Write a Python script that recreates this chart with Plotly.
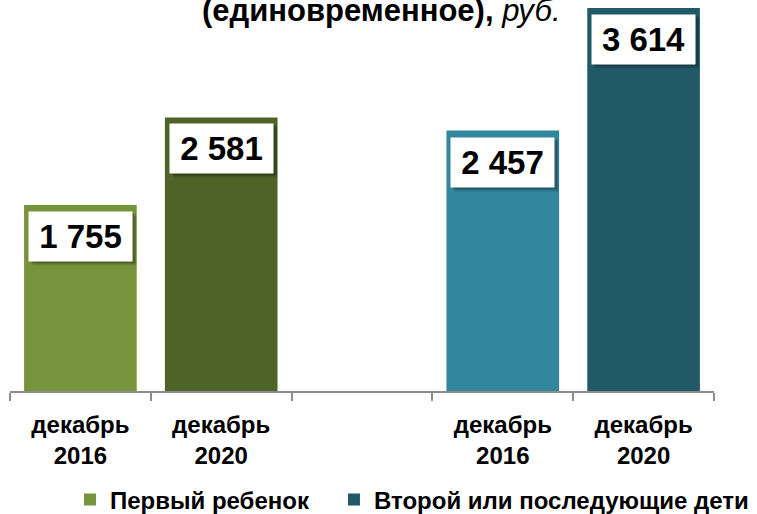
import plotly.graph_objects as go

# Data
categories = ["декабрь<br>2016", "декабрь<br>2020", "", "декабрь<br>2016", "декабрь<br>2020"]
positions = [0, 1, 3, 4]
values = [1755, 2581, 2457, 3614]
labels = ["1 755", "2 581", "2 457", "3 614"]
bar_colors = ["#77933C", "#4F6228", "#31859C", "#215967"]
series_names = ["Первый ребенок", "Первый ребенок", "Второй или последующие дети", "Второй или последующие дети"]
legend_shown = [True, False, False, True]
title_text = "<b>(единовременное),</b> <i>руб.</i>"

FONT = "Liberation Sans, Arial, sans-serif"
PAD = "\u00a0" * 3  # spacing after first legend entry

fig = go.Figure()
for i in range(len(values)):
    nm = series_names[i] + (PAD if i < 2 else "")
    fig.add_trace(go.Bar(
        x=[positions[i]], y=[values[i]], width=0.8,
        marker=dict(color=bar_colors[i], line=dict(width=0)),
        name=nm, legendgroup=series_names[i],
        showlegend=legend_shown[i], hoverinfo="skip",
    ))

# data labels with shadow
for p, v, t in zip(positions, values, labels):
    for dx, dy, col in [(4, -10, "rgba(0,0,0,0.12)"), (3, -8, "rgba(0,0,0,0.22)")]:
        fig.add_annotation(x=p, y=v, xref="x", yref="y", text=" ", showarrow=False,
                           yanchor="top", xanchor="center", xshift=dx, yshift=dy,
                           width=95, height=41, borderpad=4, bgcolor=col,
                           font=dict(size=30, family=FONT))
    fig.add_annotation(x=p, y=v, xref="x", yref="y", text="<b>" + t + "</b>", showarrow=False,
                       yanchor="top", xanchor="center", yshift=-6,
                       width=95, height=41, borderpad=4, bgcolor="white",
                       font=dict(size=33, family=FONT, color="black"))

fig.add_annotation(x=0.5, y=1, xref="paper", yref="paper", text=title_text, showarrow=False,
                   xanchor="center", yanchor="middle", yshift=-10, xshift=19,
                   font=dict(size=31, family=FONT, color="black"))

fig.update_layout(
    width=757, height=514,
    margin=dict(l=10, r=43, t=0, b=123, autoexpand=False),
    paper_bgcolor="white", plot_bgcolor="white",
    barmode="overlay",
    showlegend=True,
    legend=dict(orientation="h", x=(70 - 10) / 704, xanchor="left",
                yref="container", y=1 - 500 / 514, yanchor="middle",
                font=dict(size=24, family=FONT, color="black", weight="bold"),
                itemwidth=30, traceorder="normal"),
    font=dict(family=FONT, color="black"),
)
fig.update_xaxes(
    range=[-0.5, 4.5], tickmode="array", tickvals=list(range(5)),
    ticktext=["<b>" + c + "</b>" for c in categories],
    tickfont=dict(size=24, family=FONT, color="black"),
    ticklabelstandoff=11, automargin=False,
    ticks="", showline=True, linecolor="#8C8C8C", linewidth=2,
    showgrid=False, zeroline=False,
    minor=dict(tickmode="linear", tick0=-0.5, dtick=1, ticks="outside", ticklen=8,
               tickwidth=2, tickcolor="#8C8C8C", showgrid=False),
    fixedrange=True,
)
fig.update_yaxes(range=[0, 3689], visible=False, showgrid=False, zeroline=False, fixedrange=True)

fig.write_html("out.html", config={"displayModeBar": False},
               post_script="document.body.style.margin='0';document.body.style.overflow='hidden';")
